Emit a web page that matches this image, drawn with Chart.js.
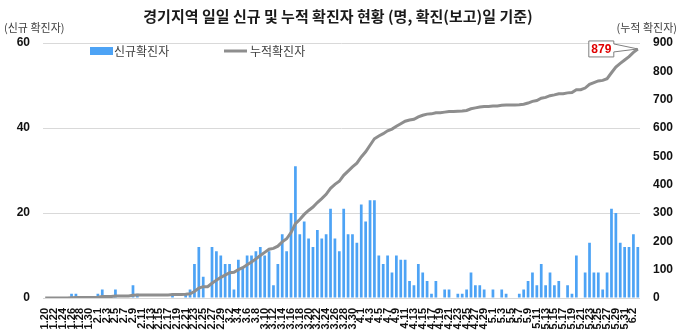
<!DOCTYPE html>
<html>
<head>
<meta charset="utf-8">
<script src="https://cdn.jsdelivr.net/npm/chart.js@4.4.0/dist/chart.umd.min.js"></script>
<style>
    html, body { margin: 0; padding: 0; background: #fff; }
    #wrap { width: 680px; height: 335px; }
</style>
</head>
<body>
<div id="wrap"><canvas id="myChart"></canvas></div>
<script>
// 날짜 (1.20 ~ 6.3)
let dates = [
    '1.20','1.21','1.22','1.23','1.24','1.25','1.26','1.27','1.28','1.29','1.30','1.31',
    '2.1','2.2','2.3','2.4','2.5','2.6','2.7','2.8','2.9','2.10','2.11','2.12','2.13','2.14','2.15',
    '2.16','2.17','2.18','2.19','2.20','2.21','2.22','2.23','2.24','2.25','2.26','2.27','2.28','2.29',
    '3.1','3.2','3.3','3.4','3.5','3.6','3.7','3.8','3.9','3.10','3.11','3.12','3.13','3.14','3.15','3.16',
    '3.17','3.18','3.19','3.20','3.21','3.22','3.23','3.24','3.25','3.26','3.27','3.28','3.29','3.30','3.31',
    '4.1','4.2','4.3','4.4','4.5','4.6','4.7','4.8','4.9','4.10','4.11','4.12','4.13','4.14','4.15',
    '4.16','4.17','4.18','4.19','4.20','4.21','4.22','4.23','4.24','4.25','4.26','4.27','4.28','4.29','4.30',
    '5.1','5.2','5.3','5.4','5.5','5.6','5.7','5.8','5.9','5.10','5.11','5.12','5.13','5.14','5.15','5.16',
    '5.17','5.18','5.19','5.20','5.21','5.22','5.23','5.24','5.25','5.26','5.27','5.28','5.29','5.30','5.31',
    '6.1','6.2','6.3'
];

// 신규확진자 (일별)
let newCases = [
    0,0,0,0,0,0,1,1,0,0,0,0,
    1,2,0,0,2,0,0,0,3,1,0,0,0,0,0,0,0,1,0,0,1,2,8,12,5,0,12,11,10,
    8,8,2,9,7,10,10,11,12,10,11,3,8,15,11,20,31,15,18,14,12,16,14,15,21,14,11,21,15,15,13,
    22,18,23,23,10,8,10,6,10,9,9,4,3,8,6,4,1,4,0,2,2,0,1,1,2,6,3,3,2,0,
    2,0,2,1,0,0,1,2,4,6,3,8,3,6,3,4,0,3,1,10,0,6,13,6,6,2,6,21,20,13,12,
    12,15,12
];

// 누적확진자
let totalCases = [
    0,0,0,0,0,0,1,2,2,2,2,2,
    3,5,5,5,7,7,7,7,10,11,11,11,11,11,11,11,11,12,12,12,13,15,23,35,40,40,52,63,73,
    81,89,91,100,107,117,127,138,150,161,172,175,183,198,209,231,262,277,295,309,321,337,351,366,387,
    401,412,433,448,463,476,
    498,516,539,562,572,580,590,596,606,615,624,628,631,639,645,649,650,654,654,656,
    658,658,659,660,662,668,671,674,676,676,
    678,678,680,681,681,681,682,684,688,694,697,705,708,714,717,721,721,724,725,735,
    735,741,754,760,766,768,774,795,815,828,840,
    852,867,879
];

let leftTicks = [0, 20, 40, 60];
let rightTicks = [0, 100, 200, 300, 400, 500, 600, 700, 800, 900];

const titleText = '경기지역 일일 신규 및 누적 확진자 현황 (명, 확진(보고)일 기준)';
const barColor = '#4DA3F5';
const lineColor = '#8E8E8E';
const krFont = '"Noto Sans CJK KR", "Noto Sans", sans-serif';
const numFont = '"Liberation Sans", Arial, sans-serif';

// 제목, 축 이름, 범례, 마지막 값 말풍선
const overlay = {
    id: 'overlay',
    afterDraw(chart) {
        const ctx = chart.ctx;
        ctx.save();
        ctx.textBaseline = 'middle';

        ctx.fillStyle = '#1a1a1a';
        ctx.font = 'bold 15px ' + krFont;
        ctx.textAlign = 'center';
        ctx.fillText(titleText, 338, 16);

        ctx.fillStyle = '#404040';
        ctx.font = '11px ' + krFont;
        ctx.textAlign = 'left';
        ctx.fillText('(신규 확진자)', 4, 28);
        ctx.textAlign = 'right';
        ctx.fillText('(누적 확진자)', 677, 28);

        // 범례
        ctx.fillStyle = barColor;
        ctx.fillRect(90, 47, 23, 8);
        ctx.strokeStyle = lineColor;
        ctx.lineWidth = 3;
        ctx.beginPath();
        ctx.moveTo(224, 51);
        ctx.lineTo(247, 51);
        ctx.stroke();
        ctx.fillStyle = '#404040';
        ctx.font = '12px ' + krFont;
        ctx.textAlign = 'left';
        ctx.fillText('신규확진자', 114, 51);
        ctx.fillText('누적확진자', 250, 51);

        // 누적 마지막 값
        const meta = chart.getDatasetMeta(1);
        const last = meta.data[meta.data.length - 1];
        const px = last.x, py = last.y;
        const R = px - 24, L = R - 25, T = py - 8, B = py + 8;
        ctx.beginPath();
        ctx.moveTo(L, T);
        ctx.lineTo(R, T);
        ctx.lineTo(R, T + 3);
        ctx.lineTo(px, py);
        ctx.lineTo(R, B - 5);
        ctx.lineTo(R, B);
        ctx.lineTo(L, B);
        ctx.closePath();
        ctx.fillStyle = '#ffffff';
        ctx.fill();
        ctx.strokeStyle = '#7f7f7f';
        ctx.lineWidth = 1;
        ctx.stroke();
        ctx.fillStyle = '#e00000';
        ctx.font = 'bold 12px ' + numFont;
        ctx.textAlign = 'center';
        ctx.fillText(String(totalCases[totalCases.length - 1]), (L + R) / 2, py + 0.5);

        ctx.restore();
    }
};

const ctx = document.getElementById('myChart').getContext('2d');

let myChart = new Chart(ctx, {
    type: 'bar',
    data: {
        labels: dates,
        datasets: [
            {
                label: '신규확진자',
                data: newCases,
                backgroundColor: barColor,
                yAxisID: 'y',
                categoryPercentage: 1.0,
                barPercentage: 0.62,
                order: 2,
            },
            {
                type: 'line',
                label: '누적확진자',
                data: totalCases,
                borderColor: lineColor,
                borderWidth: 3,
                pointRadius: 0,
                tension: 0,
                fill: false,
                yAxisID: 'y1',
                order: 1,
            },
        ],
    },
    options: {
        responsive: true,
        maintainAspectRatio: false,
        animation: false,
        layout: { padding: { top: 43, left: 0, right: 0, bottom: 0 } },
        plugins: {
            legend: { display: false },
            tooltip: { enabled: false },
        },
        scales: {
            x: {
                offset: true,
                grid: { display: false },
                border: { display: false },
                ticks: {
                    autoSkip: false,
                    maxRotation: 90,
                    minRotation: 90,
                    padding: 2,
                    color: '#111',
                    font: { family: numFont, size: 11, weight: 'bold' },
                    callback: function(value, index) {
                        return index % 2 === 0 ? dates[index] : '';
                    },
                },
                afterFit: function(scale) { scale.height = 37; },
            },
            y: {
                position: 'left',
                min: 0,
                max: 60,
                afterBuildTicks: function(scale) {
                    scale.ticks = leftTicks.map(v => ({ value: v }));
                },
                grid: { color: '#d9d9d9', lineWidth: 1, drawTicks: false },
                border: { display: false },
                ticks: {
                    padding: 13,
                    color: '#111',
                    font: { family: numFont, size: 12, weight: 'bold' },
                },
                afterFit: function(scale) { scale.width = 43; },
            },
            y1: {
                position: 'right',
                min: 0,
                max: 900,
                afterBuildTicks: function(scale) {
                    scale.ticks = rightTicks.map(v => ({ value: v }));
                },
                grid: { display: false, drawTicks: false },
                border: { display: false },
                ticks: {
                    padding: 13,
                    color: '#111',
                    font: { family: numFont, size: 12, weight: 'bold' },
                },
                afterFit: function(scale) { scale.width = 40; },
            },
        },
    },
    plugins: [overlay],
});
</script>
</body>
</html>
